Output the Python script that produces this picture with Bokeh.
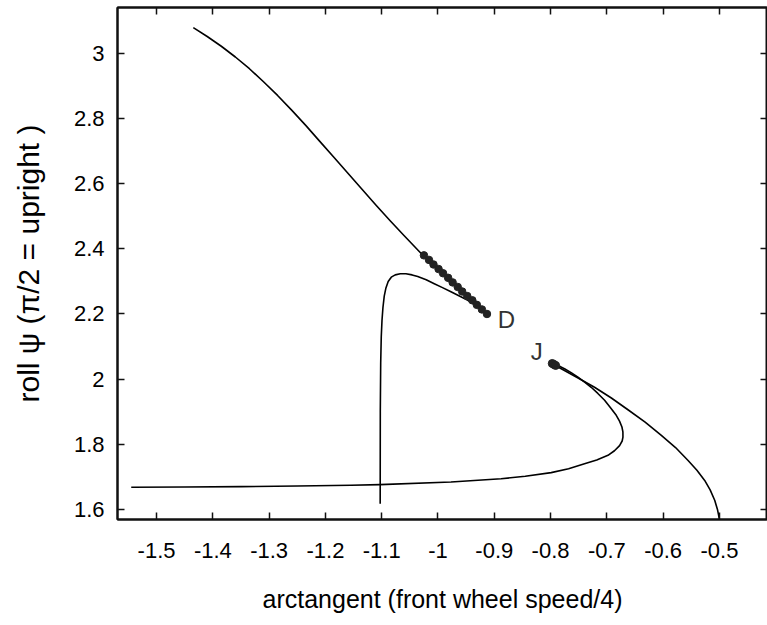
from bokeh.plotting import figure
from bokeh.models import Range1d, FixedTicker, LinearAxis
from bokeh.embed import file_html
from bokeh.resources import INLINE
from bokeh.core.properties import value

# Tick values and their printed labels
x_ticks = [-1.5, -1.4, -1.3, -1.2, -1.1, -1.0, -0.9, -0.8, -0.7, -0.6, -0.5]
x_tick_labels = ["-1.5", "-1.4", "-1.3", "-1.2", "-1.1", "-1", "-0.9", "-0.8", "-0.7", "-0.6", "-0.5"]
y_ticks = [1.6, 1.8, 2.0, 2.2, 2.4, 2.6, 2.8, 3.0]
y_tick_labels = ["1.6", "1.8", "2", "2.2", "2.4", "2.6", "2.8", "3"]

# Upper branch coming down from large roll angles towards D
branch_a_x = [-1.4347, -1.41, -1.385, -1.36, -1.335, -1.31, -1.285, -1.26, -1.235, -1.21,
              -1.185, -1.16, -1.135, -1.11, -1.085, -1.06, -1.035, -1.0254, -0.913]
branch_a_y = [3.079, 3.052, 3.022, 2.989, 2.953, 2.913, 2.871, 2.826, 2.779, 2.730,
              2.681, 2.632, 2.583, 2.534, 2.486, 2.440, 2.395, 2.378, 2.2008]

# Branch rising along arctan = -1.1 and bending over into D
branch_b_x = [-1.1027, -1.1025, -1.1018, -1.1008, -1.0995, -1.0978, -1.0955, -1.0925, -1.0885, -1.083,
              -1.076, -1.067, -1.057, -1.046, -1.036, -1.021, -1.0066, -0.992, -0.977, -0.962,
              -0.947, -0.935, -0.924, -0.913]
branch_b_y = [1.617, 1.90, 2.05, 2.13, 2.18, 2.22, 2.255, 2.28, 2.30, 2.313,
              2.320, 2.3235, 2.3235, 2.320, 2.315, 2.305, 2.293, 2.281, 2.268, 2.255,
              2.242, 2.229, 2.215, 2.2008]

# Near-upright branch that folds back and ends at J
branch_c_x = [-1.545, -1.45, -1.35, -1.25, -1.1548, -1.1032, -0.9769, -0.8879, -0.845, -0.7989,
              -0.768, -0.7397, -0.718, -0.698, -0.6865, -0.6774, -0.6728, -0.6714, -0.6715, -0.6732,
              -0.6775, -0.6833, -0.6935, -0.704, -0.716, -0.7278, -0.7395, -0.7514, -0.7635, -0.7753,
              -0.785, -0.7931]
branch_c_y = [1.668, 1.669, 1.670, 1.672, 1.674, 1.676, 1.684, 1.694, 1.702, 1.713,
              1.725, 1.740, 1.752, 1.766, 1.780, 1.796, 1.810, 1.822, 1.838, 1.853,
              1.871, 1.889, 1.912, 1.935, 1.956, 1.975, 1.991, 2.006, 2.020, 2.032,
              2.040, 2.047]

# Branch leaving J down to the upright position at -0.5
branch_d_x = [-0.795, -0.781, -0.752, -0.7219, -0.692, -0.6625, -0.632, -0.6032, -0.578, -0.5557,
              -0.54, -0.5262, -0.5165, -0.5084, -0.5035, -0.5012, -0.5]
branch_d_y = [2.045, 2.032, 2.004, 1.975, 1.942, 1.906, 1.868, 1.827, 1.790, 1.750,
              1.720, 1.689, 1.660, 1.628, 1.600, 1.580, 1.569]

# Marked solutions approaching D
dots_d_x = [-1.025, -1.016, -1.008, -0.999, -0.991, -0.982, -0.974, -0.965, -0.957, -0.948,
            -0.939, -0.931, -0.922, -0.913]
dots_d_y = [2.380, 2.366, 2.352, 2.338, 2.325, 2.311, 2.297, 2.283, 2.269, 2.255,
            2.242, 2.228, 2.214, 2.200]

# Marked solutions clustered at J
dots_j_x = [-0.797, -0.794, -0.791]
dots_j_y = [2.048, 2.045, 2.042]

# Point labels
point_names = ["D", "J"]
point_x = [-0.8937, -0.8137]
point_y = [2.183, 2.085]

FONT = "Liberation Sans"

p = figure(width=767, height=625, output_backend="svg", toolbar_location=None,
           x_range=Range1d(-1.5694, -0.4146), y_range=Range1d(1.569, 3.141),
           min_border_left=117, min_border_right=0, min_border_top=7, min_border_bottom=106)

p.background_fill_color = "white"
p.border_fill_color = "white"
p.outline_line_color = "#111111"
p.outline_line_width = 2
p.xgrid.visible = False
p.ygrid.visible = False

for ax, ticks, labels in ((p.xaxis[0], x_ticks, x_tick_labels), (p.yaxis[0], y_ticks, y_tick_labels)):
    ax.ticker = FixedTicker(ticks=ticks)
    ax.major_label_overrides = {t: s for t, s in zip(ticks, labels)}
    ax.minor_tick_line_color = None
    ax.major_tick_in = 7
    ax.major_tick_out = 0
    ax.major_tick_line_width = 1.5
    ax.major_tick_line_color = "#111111"
    ax.axis_line_color = "#111111"
    ax.axis_line_width = 2
    ax.major_label_text_font = FONT
    ax.major_label_text_font_size = "22px"
    ax.major_label_text_color = "black"
    ax.axis_label_text_font = FONT
    ax.axis_label_text_font_style = "normal"
    ax.axis_label_text_color = "black"

p.xaxis.major_label_standoff = 23
p.yaxis.major_label_standoff = 13

p.xaxis.axis_label = "arctangent (front wheel speed/4)"
p.xaxis.axis_label_text_font_size = "25px"
p.xaxis.axis_label_standoff = 24

p.yaxis.axis_label = "roll \u03c8 (\u03c0/2 = upright )"
p.yaxis.axis_label_text_font_size = "30px"
p.yaxis.axis_label_standoff = 26

# Unlabelled mirror ticks on the top and right edges
for side, ticks in (("above", x_ticks), ("right", y_ticks)):
    mirror = LinearAxis(ticker=FixedTicker(ticks=ticks))
    mirror.major_label_text_font_size = "0px"
    mirror.major_label_standoff = 0
    mirror.minor_tick_line_color = None
    mirror.major_tick_in = 7
    mirror.major_tick_out = 0
    mirror.major_tick_line_width = 1.5
    mirror.major_tick_line_color = "#111111"
    mirror.axis_line_color = "#111111"
    mirror.axis_line_width = 2
    p.add_layout(mirror, side)

for bx, by in ((branch_a_x, branch_a_y), (branch_b_x, branch_b_y),
               (branch_c_x, branch_c_y), (branch_d_x, branch_d_y)):
    p.line(bx, by, line_color="black", line_width=1.6, line_join="round")

p.scatter(dots_d_x, dots_d_y, size=7.5, fill_color="#222222", line_color="#222222")
p.scatter(dots_j_x, dots_j_y, size=8, fill_color="#222222", line_color="#222222")

p.text(x=point_x[:1], y=point_y[:1], text=point_names[:1], text_font=value(FONT),
       text_font_size="24px", text_color="#333333", text_align="left", text_baseline="middle")
p.text(x=point_x[1:], y=point_y[1:], text=point_names[1:], text_font=value(FONT),
       text_font_size="24px", text_color="#333333", text_align="right", text_baseline="middle")

open("out.html", "w").write(file_html(p, INLINE))
